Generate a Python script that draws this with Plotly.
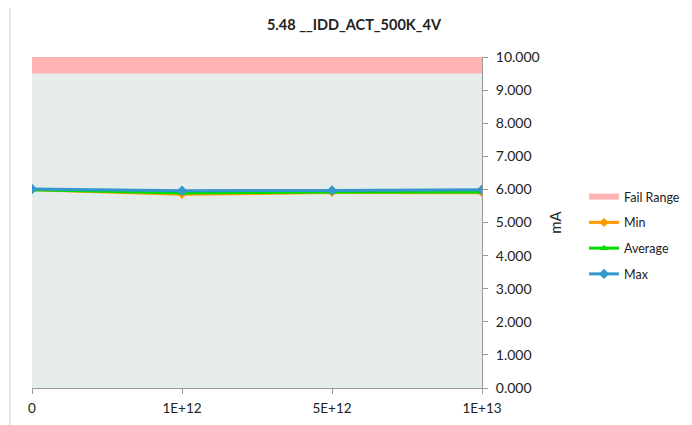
import plotly.graph_objects as go

categories = ["0", "1E+12", "5E+12", "1E+13"]
min_vals = [5.99, 5.85, 5.91, 5.90]
avg_vals = [5.99, 5.89, 5.92, 5.92]
max_vals = [6.01, 5.96, 5.97, 5.99]
fail_low = 9.5
fail_high = 10.0
y_ticks = [0, 1, 2, 3, 4, 5, 6, 7, 8, 9, 10]

FONT = "Lato, 'Open Sans', sans-serif"

fig = go.Figure()

fig.add_trace(go.Scatter(
    x=[categories[0], categories[-1], categories[-1], categories[0], categories[0]],
    y=[fail_low, fail_low, fail_high, fail_high, fail_low],
    fill="toself", fillcolor="#FFB3B3", mode="none", name="Fail Range",
    hoverinfo="skip", legendgroup="g0",
))
fig.add_trace(go.Scatter(
    x=categories, y=min_vals, name="Min", mode="lines+markers",
    line=dict(color="#FF9900", width=3), legendgroup="g1",
    marker=dict(symbol="diamond", size=7, color="#FF9900"),
))
fig.add_trace(go.Scatter(
    x=categories, y=avg_vals, name="Average", mode="lines+markers",
    line=dict(color="#00DD00", width=3), legendgroup="g2",
    marker=dict(symbol="triangle-up", size=7, color="#00DD00"),
))
fig.add_trace(go.Scatter(
    x=categories, y=max_vals, name="Max", mode="lines+markers",
    line=dict(color="#3399CC", width=3), legendgroup="g3",
    marker=dict(symbol="diamond", size=8, color="#3399CC"),
))

fig.update_layout(
    width=692, height=425,
    margin=dict(l=24, r=218, t=49, b=45),
    paper_bgcolor="white",
    plot_bgcolor="#E6ECEC",
    font=dict(family=FONT, size=14, color="#222222"),
    title=dict(text="<b>5.48 __IDD_ACT_500K_4V</b>", x=(354 - 8) / 692, xanchor="center",
               xref="container", y=1 - (25 - 8) / 425, yanchor="middle",
               font=dict(size=14.5, family=FONT)),
    showlegend=True,
    legend=dict(x=(584 - 32) / 450, y=1 - (182 - 57) / 331, xanchor="left", yanchor="top",
                font=dict(size=12.5, family=FONT), tracegroupgap=6.5,
                itemwidth=30, bgcolor="rgba(0,0,0,0)", traceorder="grouped"),
    xaxis=dict(
        type="category", range=[0, 3], showgrid=False,
        categoryorder="array", categoryarray=categories,
        showline=True, linecolor="#999999", linewidth=1,
        ticks="outside", ticklen=5, tickcolor="#999999",
        tickfont=dict(size=13.5), zeroline=False, ticklabelstandoff=3,
    ),
    yaxis=dict(
        side="right", range=[0, 10], tickvals=y_ticks,
        tickformat=".3f", showgrid=False,
        showline=True, linecolor="#999999", linewidth=1,
        ticks="outside", ticklen=5, tickcolor="#999999",
        tickfont=dict(size=14), zeroline=False, ticklabelstandoff=5,
        title=dict(text="mA", font=dict(size=15), standoff=11),
    ),
    shapes=[dict(type="rect", xref="paper", yref="paper",
                 x0=(10 - 32) / 450, x1=(720 - 32) / 450,
                 y0=-(440 - 388) / 331, y1=1 + (57 - 5) / 331,
                 line=dict(color="#CCCCCC", width=1), fillcolor="rgba(0,0,0,0)",
                 layer="below")],
)

fig.write_html("out.html")
